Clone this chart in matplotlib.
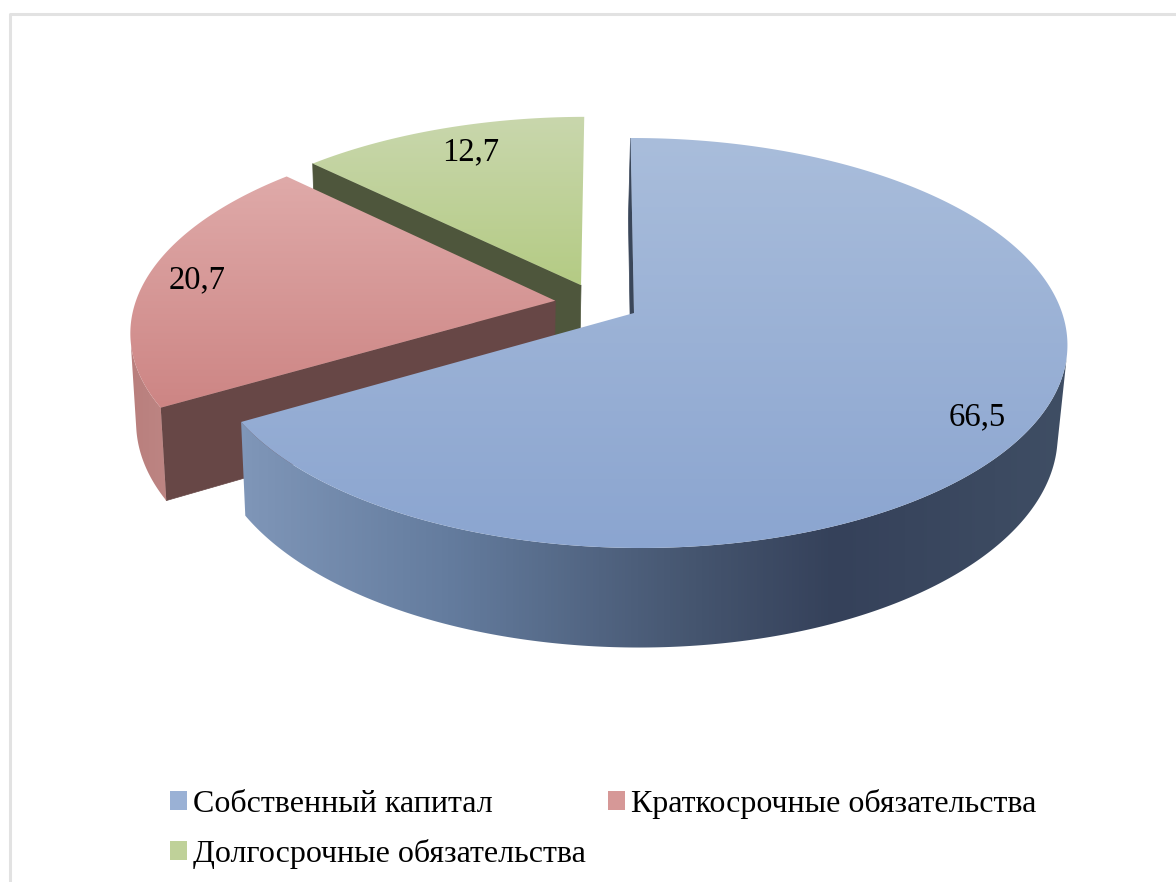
import numpy as np
import matplotlib
matplotlib.use("Agg")
import matplotlib.pyplot as plt
from matplotlib.patches import Polygon, Patch
from matplotlib.colors import LinearSegmentedColormap

labels = ["Собственный капитал", "Краткосрочные обязательства", "Долгосрочные обязательства"]
values = [66.5, 20.7, 12.7]
value_labels = ["66,5", "20,7", "12,7"]

# colours per slice
top_colors = [("#a9bddb", "#8ba5d0"), ("#dfaaa9", "#cd8584"), ("#c9d7ad", "#b4cb84")]
legend_colors = ["#9ab1d5", "#d69897", "#bfd199"]
cut_colors = ["#3a4659", "#674746", "#4e563c"]
wall_stops = [
    [(0.0, "#7f96b8"), (0.25, "#647c9e"), (0.55, "#45556f"), (0.72, "#35415a"), (1.0, "#3f4e64")],
    [(0.0, "#b97f7d"), (1.0, "#bd8583")],
    [(0.0, "#4e563c"), (1.0, "#4e563c")],
]

# camera, fitted by eye against the picture
cx, cy = 634, 313
rx, ry = 426, 200.6
depth = 90.5
shear, shear_z = 4, 2.5
persp_x, persp_y, persp_z = 0.005, 0.1463, 0.0165
explode = 0.1


def project(x, y, z=0.0):
    d = 1 + persp_y * y - persp_x * x - persp_z * z
    return cx + (rx * x - shear * y + shear_z * z) / d, cy - (ry * y + depth * z) / d


def arc(off, a0, a1, z=0.0, n=400):
    t = np.radians(np.linspace(a0, a1, n))
    return project(off[0] + np.sin(t), off[1] + np.cos(t), z)


def gradient_fill(ax, xy, stops, vertical=True, zorder=2):
    poly = Polygon(xy, closed=True, transform=ax.transData, fc="none", ec="none")
    ax.add_patch(poly)
    cmap = LinearSegmentedColormap.from_list("g", stops)
    x0, y0 = xy.min(axis=0)
    x1, y1 = xy.max(axis=0)
    g = np.linspace(0, 1, 256)
    g = g[:, None] if vertical else g[None, :]
    im = ax.imshow(g, cmap=cmap, extent=(x0, x1, y1, y0), aspect="auto",
                   zorder=zorder, interpolation="bilinear")
    im.set_clip_path(poly)
    return im


fig = plt.figure(figsize=(11.76, 8.82), dpi=100)
ax = fig.add_axes([0, 0, 1, 1])

# chart frame, only top and left are seen
ax.plot([10, 10, 1176], [882, 14, 14], color="#e2e2e2", lw=2.2, zorder=1)

total = sum(values)
edges = np.cumsum([0] + values) / total * 360
mids = (edges[:-1] + edges[1:]) / 2
dirs = np.column_stack([np.sin(np.radians(mids)), np.cos(np.radians(mids))]) * explode
offsets = dirs - dirs[0]

z = 2
for i in [2, 1, 0]:
    a0, a1 = edges[i], edges[i + 1]
    off = offsets[i]
    # straight cut face, only the start edge can be seen
    ox, oy = off[0] + np.sin(np.radians(a0)), off[1] + np.cos(np.radians(a0))
    px = [project(off[0], off[1]), project(ox, oy), project(ox, oy, -1), project(off[0], off[1], -1)]
    ax.add_patch(Polygon(px, closed=True, fc=cut_colors[i], ec=cut_colors[i], lw=0.5, zorder=z))
    # outer wall, keep only the part of the rim that faces the camera
    tx, ty = arc(off, a0, a1)
    bx, by = arc(off, a0, a1, -1)
    cross = np.gradient(tx) * (by - ty) - np.gradient(ty) * (bx - tx)
    keep = cross < 0
    if keep.sum() > 1:
        wall = np.column_stack([np.r_[tx[keep], bx[keep][::-1]], np.r_[ty[keep], by[keep][::-1]]])
        gradient_fill(ax, wall, wall_stops[i], vertical=False, zorder=z + 0.1)
    # top face
    ax_, ay_ = project(off[0], off[1])
    top = np.column_stack([np.r_[ax_, tx], np.r_[ay_, ty]])
    gradient_fill(ax, top, top_colors[i], zorder=z + 0.2)
    z += 1

ax.set_xlim(0, 1176)
ax.set_ylim(882, 0)
ax.axis("off")

ax.text(977, 417, value_labels[0], fontsize=23.5, family="Liberation Serif", ha="center", va="center", color="black", zorder=9)
ax.text(197, 280, value_labels[1], fontsize=23.5, family="Liberation Serif", ha="center", va="center", color="black", zorder=9)
ax.text(471, 152, value_labels[2], fontsize=23.5, family="Liberation Serif", ha="center", va="center", color="black", zorder=9)

handles = [Patch(facecolor=legend_colors[i], edgecolor="none") for i in (0, 2, 1)]
names = [labels[i] for i in (0, 2, 1)]
ax.legend(handles, names, ncols=2, loc="lower left", bbox_to_anchor=(148 / 1176, -0.0102),
          frameon=False, prop={"family": "Liberation Serif", "size": 23},
          handlelength=0.53, handleheight=0.53, handletextpad=0.19, columnspacing=0.69,
          labelspacing=0.61, borderpad=0.2)

fig.savefig("out.png", dpi=100, facecolor="white")
